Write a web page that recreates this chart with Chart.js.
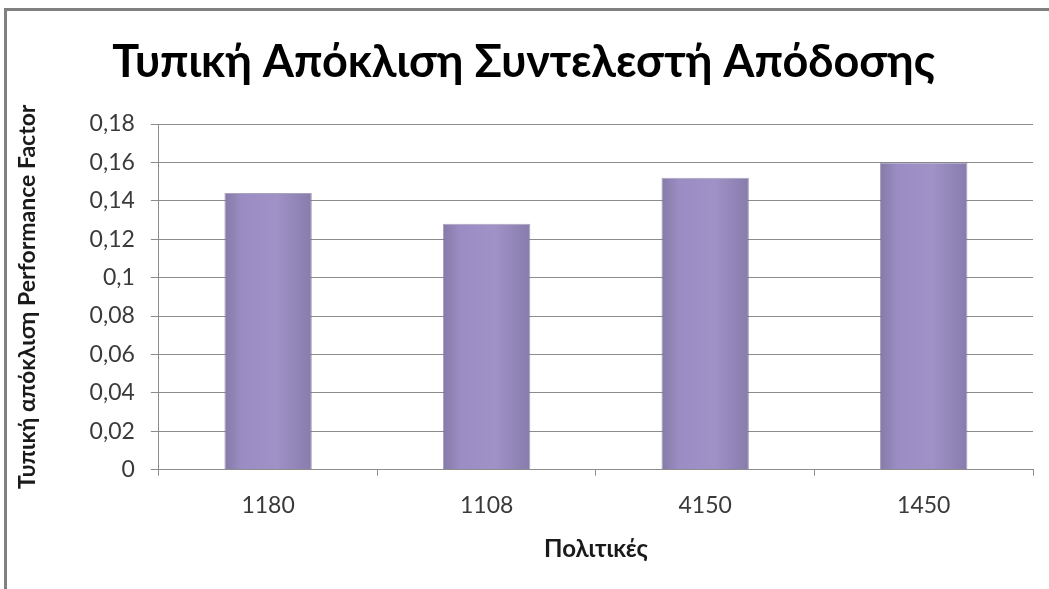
<!DOCTYPE html>
<html>
<head>
<meta charset="utf-8">
<script src="https://cdn.jsdelivr.net/npm/chart.js@4.4.0/dist/chart.umd.min.js"></script>
<style>
  html, body { margin: 0; padding: 0; background: #ffffff; }
</style>
</head>
<body>
<canvas id="grafico" width="1049" height="589"></canvas>
<script>
const politikes = ['1180', '1108', '4150', '1450'];
const apoklisi = [0.144, 0.128, 0.152, 0.160];
const yMin = 0;
const yMax = 0.18;
const yStep = 0.02;

const titlos = 'Τυπική Απόκλιση Συντελεστή Απόδοσης';
const titlosY = 'Τυπική απόκλιση Performance Factor';
const titlosX = 'Πολιτικές';

const fontFamily = 'Lato, "Open Sans", sans-serif';
const platosBar = 0.4;

// frame around the whole chart object
const plaisio = {
  id: 'plaisio',
  beforeDraw(chart) {
    const c = chart.ctx;
    c.save();
    c.fillStyle = '#ffffff';
    c.fillRect(0, 0, chart.width, chart.height);
    c.strokeStyle = '#808080';
    c.lineWidth = 3;
    c.beginPath();
    c.moveTo(5.5, chart.height + 5);
    c.lineTo(5.5, 9.5);
    c.lineTo(chart.width + 5, 9.5);
    c.stroke();
    c.restore();
  }
};

function xromaBar(context) {
  const chart = context.chart;
  const area = chart.chartArea;
  const xScale = chart.scales.x;
  if (!area || !xScale) return '#9a8bc2';
  const kentro = xScale.getPixelForValue(context.dataIndex);
  const half = area.width / politikes.length * platosBar / 2;
  if (!isFinite(kentro) || !isFinite(half)) return '#9a8bc2';
  const g = chart.ctx.createLinearGradient(kentro - half, 0, kentro + half, 0);
  g.addColorStop(0, '#847aa6');
  g.addColorStop(0.2, '#9b8dc4');
  g.addColorStop(0.6, '#a091c6');
  g.addColorStop(1, '#877cac');
  return g;
}

const ctx = document.getElementById('grafico').getContext('2d');

new Chart(ctx, {
  type: 'bar',
  data: {
    labels: politikes,
    datasets: [{
      label: titlosY,
      data: apoklisi,
      backgroundColor: xromaBar,
      borderColor: 'rgba(110,100,140,0.6)',
      borderWidth: 1,
      categoryPercentage: 1.0,
      barPercentage: platosBar
    }]
  },
  options: {
    responsive: false,
    animation: false,
    devicePixelRatio: 1,
    layout: {
      padding: { left: 14, right: 16, top: 35, bottom: 25 }
    },
    plugins: {
      legend: { display: false },
      tooltip: { enabled: false },
      title: {
        display: true,
        text: titlos,
        color: '#000000',
        font: { family: fontFamily, size: 45, weight: 'bold', lineHeight: 1.2 },
        padding: { top: 0, bottom: 35 }
      }
    },
    scales: {
      x: {
        grid: {
          display: true,
          drawOnChartArea: false,
          offset: true,
          tickLength: 6,
          color: '#8c8c8c'
        },
        border: { color: '#8c8c8c', width: 1 },
        ticks: {
          color: '#3a3a3a',
          font: { family: fontFamily, size: 23 },
          padding: 16
        },
        title: {
          display: true,
          text: titlosX,
          color: '#1a1a1a',
          font: { family: fontFamily, size: 24, weight: 'bold' },
          padding: { top: 0, bottom: 0 }
        }
      },
      y: {
        min: yMin,
        max: yMax,
        grid: {
          color: '#8c8c8c',
          lineWidth: 1,
          tickLength: 8
        },
        border: { color: '#8c8c8c', width: 1 },
        ticks: {
          stepSize: yStep,
          color: '#3a3a3a',
          font: { family: fontFamily, size: 23 },
          padding: 16,
          callback: function(v) {
            return Number(v.toFixed(2)).toString().replace('.', ',');
          }
        },
        title: {
          display: true,
          text: titlosY,
          color: '#1a1a1a',
          font: { family: fontFamily, size: 23, weight: 'bold' },
          padding: { top: 0, bottom: 32 }
        }
      }
    }
  },
  plugins: [plaisio]
});
</script>
</body>
</html>
